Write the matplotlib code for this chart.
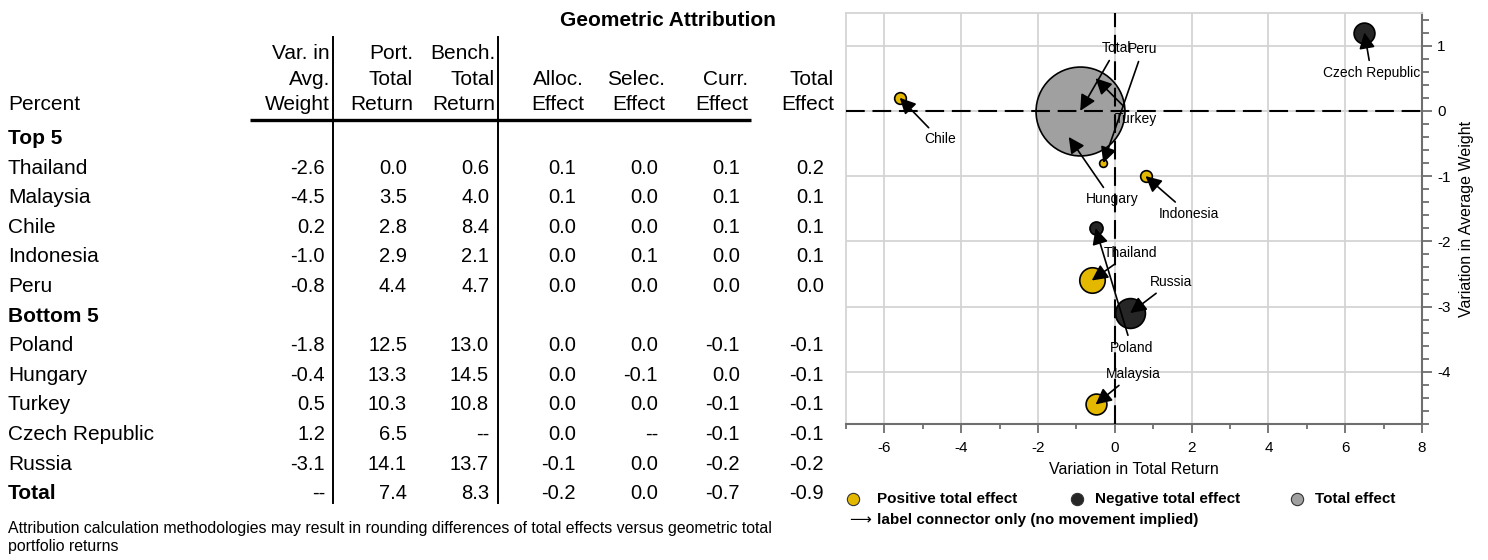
import numpy as np
import matplotlib
matplotlib.use("Agg")
import matplotlib.pyplot as plt
from matplotlib import font_manager
from matplotlib.ticker import MultipleLocator

plt.rcParams["font.family"] = ["Liberation Sans", "DejaVu Sans"]
plt.rcParams["axes.unicode_minus"] = False


def pick_font(cands):
    names = {f.name for f in font_manager.fontManager.ttflist}
    for c in cands:
        if c in names:
            return c
    return "Liberation Sans"


NARROW = pick_font(["Liberation Sans Narrow", "Arial Narrow",
                    "DejaVu Sans Condensed", "Liberation Sans"])

# ---------------------------------------------------------------- data
countries = ["Thailand", "Malaysia", "Chile", "Indonesia", "Peru",
             "Poland", "Hungary", "Turkey", "Czech Republic", "Russia", "Total"]
var_weight   = [-2.6, -4.5, 0.2, -1.0, -0.8, -1.8, -0.4, 0.5, 1.2, -3.1, None]
port_return  = [0.0, 3.5, 2.8, 2.9, 4.4, 12.5, 13.3, 10.3, 6.5, 14.1, 7.4]
bench_return = [0.6, 4.0, 8.4, 2.1, 4.7, 13.0, 14.5, 10.8, None, 13.7, 8.3]
alloc_eff    = [0.1, 0.1, 0.0, 0.0, 0.0, 0.0, 0.0, 0.0, 0.0, -0.1, -0.2]
selec_eff    = [0.0, 0.0, 0.0, 0.1, 0.0, 0.0, -0.1, 0.0, None, 0.0, 0.0]
curr_eff     = [0.1, 0.1, 0.1, 0.0, 0.0, -0.1, 0.0, -0.1, -0.1, -0.2, -0.7]
total_eff    = [0.2, 0.1, 0.1, 0.1, 0.0, -0.1, -0.1, -0.1, -0.1, -0.2, -0.9]

# scatter: variation in total return (x) vs variation in average weight (y)
sc_x = [-0.6, -0.5, -5.6, 0.8, -0.3, -0.5, -1.2, -0.5, 6.5, 0.4, -0.9]
sc_y = [-2.6, -4.5, 0.2, -1.0, -0.8, -1.8, -0.4, 0.5, 1.2, -3.1, 0.0]
# unrounded |total effect|
effect_abs = [0.17, 0.13, 0.06, 0.06, 0.035, 0.07, 0.08, 0.08, 0.13, 0.21, 0.90]
effect_pos = [True, True, True, True, True, False, False, False, False, False, None]

# ---------------------------------------------------------------- style / layout
C_POS = "#e5b800"
C_NEG = "#262626"
C_TOT = "#a0a0a0"
C_GRID = "#d4d4d4"
C_AX = "#6e6e6e"

# label offsets (points) from each bubble
label_off = {
    "Thailand": (28, 20), "Malaysia": (27, 22), "Chile": (29, -30),
    "Indonesia": (31, -27), "Peru": (28.5, 82), "Poland": (26, -86),
    "Hungary": (31, -45), "Turkey": (29, -29), "Czech Republic": (5, -29),
    "Russia": (29.5, 22.5), "Total": (26, 45),
}

fig = plt.figure(figsize=(14.88, 5.6), dpi=100)

# ---------------------------------------------------------------- table (pixel coordinates)
tab = fig.add_axes([0, 0, 1, 1])
tab.set_xlim(0, 1488)
tab.set_ylim(560, 0)
tab.axis("off")

tab.text(668, 20, "Geometric Attribution", ha="center", va="center",
         fontsize=15, fontweight="bold")

headers = [("Var. in", "Avg.", "Weight"), ("Port.", "Total", "Return"),
           ("Bench.", "Total", "Return"), ("", "Alloc.", "Effect"),
           ("", "Selec.", "Effect"), ("", "Curr.", "Effect"), ("", "Total", "Effect")]
hdr_right = [330, 413, 495, 584, 665, 748, 834]
num_right = [325, 407, 489, 576, 658, 740, 824]
hdr_base = [59, 85, 110]
for lines, xr in zip(headers, hdr_right):
    for txt, yb in zip(lines, hdr_base):
        if txt:
            tab.text(xr, yb, txt, ha="right", va="baseline", fontsize=15)
tab.text(8, hdr_base[2], "Percent", ha="left", va="baseline", fontsize=15)

columns = [var_weight, port_return, bench_return, alloc_eff, selec_eff, curr_eff, total_eff]
row_h = 29.6
base0 = 144
layout = ["Top 5"] + countries[:5] + ["Bottom 5"] + countries[5:]
for i, name in enumerate(layout):
    yb = base0 + i * row_h
    bold = name in ("Top 5", "Bottom 5", "Total")
    tab.text(8, yb, name, ha="left", va="baseline", fontsize=15,
             fontweight="bold" if bold else "normal")
    if name in countries:
        k = countries.index(name)
        for col, xr in zip(columns, num_right):
            v = col[k]
            s = "--" if v is None else f"{v:.1f}"
            tab.text(xr, yb, s, ha="right", va="baseline", fontsize=14.5,
                     family=[NARROW, "DejaVu Sans"])

tab.plot([333, 333], [37, 503], color="black", lw=1.4)
tab.plot([498, 498], [37, 503], color="black", lw=1.4)
tab.plot([250, 751], [120, 120], color="black", lw=2.4, solid_capstyle="butt")

tab.text(8, 529, "Attribution calculation methodologies may result in rounding "
         "differences of total effects versus geometric total",
         ha="left", va="center", fontsize=11.4)
tab.text(8, 546, "portfolio returns", ha="left", va="center", fontsize=11.4)

# ---------------------------------------------------------------- scatter
ax = fig.add_axes([846 / 1488, 1 - 424 / 560, 576 / 1488, 411 / 560])
ax.set_xlim(-7, 8)
ax.set_ylim(-4.8, 1.5)
ax.xaxis.set_major_locator(MultipleLocator(2))
ax.xaxis.set_minor_locator(MultipleLocator(1))
ax.yaxis.set_major_locator(MultipleLocator(1))
ax.yaxis.set_minor_locator(MultipleLocator(0.2))
ax.yaxis.tick_right()
ax.yaxis.set_label_position("right")
ax.set_axisbelow(True)
ax.grid(which="major", color=C_GRID, lw=1.3)

for side in ("top", "left"):
    ax.spines[side].set_color(C_GRID)
    ax.spines[side].set_linewidth(1.3)
for side in ("bottom", "right"):
    ax.spines[side].set_color(C_AX)
    ax.spines[side].set_linewidth(1.5)

ax.tick_params(axis="x", which="major", length=6.5, width=1.3, color=C_AX,
               labelsize=11, pad=6)
ax.tick_params(axis="x", which="minor", length=3.6, width=1.3, color=C_AX)
ax.tick_params(axis="y", which="major", length=7, width=1.3, color=C_AX,
               labelsize=11, pad=4)
ax.tick_params(axis="y", which="minor", length=5, width=1.3, color=C_AX)
ax.set_xlabel("Variation in Total Return", fontsize=11.5, labelpad=5)
ax.set_ylabel("Variation in Average Weight", fontsize=11.5, labelpad=6)

ax.axhline(0, color="black", lw=1.5, ls=(0, (9, 3.7)), zorder=4)
ax.axvline(0, color="black", lw=1.5, ls=(0, (9, 3.7)), zorder=4)


def bubble_size(v):
    d = 64 * (v / 0.9) ** 0.75
    return d * d


n = len(countries)
for k in range(n):
    if effect_pos[k] is None:
        col, z = C_TOT, 3.5
    else:
        col, z = (C_POS if effect_pos[k] else C_NEG), 3
    ax.scatter([sc_x[k]], [sc_y[k]], s=bubble_size(effect_abs[k]), color=col,
               edgecolors="black", linewidths=1.2, zorder=z)

for k in range(n):
    name = countries[k]
    ax.annotate(name, xy=(sc_x[k], sc_y[k]), xytext=label_off[name],
                textcoords="offset points", ha="center", va="center", fontsize=10,
                arrowprops=dict(arrowstyle="-|>", color="black", lw=1.2,
                                mutation_scale=24, shrinkA=2, shrinkB=0),
                zorder=6)

# ---------------------------------------------------------------- legend
leg_items = [("Positive total effect", C_POS, 853, 877),
             ("Negative total effect", C_NEG, 1077, 1095),
             ("Total effect", C_TOT, 1297, 1315)]
for label, col, mx, tx in leg_items:
    tab.scatter([mx], [499], s=78, color=col, edgecolors="#333333", linewidths=0.8)
    tab.text(tx, 499, label, ha="left", va="center", fontsize=11, fontweight="bold")
tab.text(849, 520, "\u27f6", ha="left", va="center", fontsize=11,
         family=["DejaVu Sans"])
tab.text(877, 520, "label connector only (no movement implied)", ha="left",
         va="center", fontsize=11, fontweight="bold")

fig.savefig("out.png", dpi=100)
